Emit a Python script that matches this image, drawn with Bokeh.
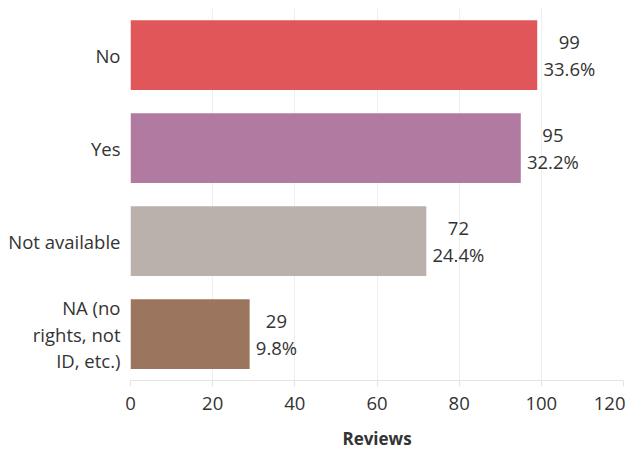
from bokeh.plotting import figure
from bokeh.models import ColumnDataSource, FactorRange, FixedTicker
from bokeh.core.properties import value
from bokeh.embed import file_html
from bokeh.resources import INLINE

# ---- data ----
categories = ["No", "Yes", "Not available", "NA (no\nrights, not\nID, etc.)"]
reviews = [99, 95, 72, 29]
colors = ["#e15759", "#b07aa1", "#bab0ac", "#9c755f"]
x_ticks = [0, 20, 40, 60, 80, 100, 120]
axis_title = "Reviews"

total = sum(reviews)
pcts = [f"{v / total * 100:.1f}%" for v in reviews]
labels = [f"{v}\n{p}" for v, p in zip(reviews, pcts)]

FONT = "Open Sans"
TEXT = "#333333"
FS = 18.5


def est_width(s, size):
    w = 0.0
    for ch in s:
        if ch.isdigit():
            w += 0.572
        elif ch == ".":
            w += 0.266
        elif ch == "%":
            w += 0.84
        else:
            w += 0.55
    return w * size


offsets = [6 + est_width(max(str(v), p, key=len), FS) / 2 for v, p in zip(reviews, pcts)]

src = ColumnDataSource(dict(cat=categories, val=reviews, color=colors, label=labels, off=offsets))

p = figure(
    frame_width=493, frame_height=372,
    min_border_left=130, min_border_right=2, min_border_top=8, min_border_bottom=68,
    y_range=FactorRange(factors=categories[::-1], range_padding=0),
    x_range=(x_ticks[0], x_ticks[-1]),
    output_backend="svg", toolbar_location=None,
)

p.hbar(y="cat", left=0, right="val", height=0.75, fill_color="color", line_color=None, source=src)

p.text(x="val", y="cat", text="label", x_offset="off", text_align="center", text_baseline="middle",
       text_font=value(FONT), text_font_size=f"{FS}px", text_color=TEXT, text_line_height=1.1,
       source=src)

p.outline_line_color = None
p.xgrid.grid_line_color = "#efefef"
p.ygrid.grid_line_color = None

xa = p.xaxis[0]
xa.ticker = FixedTicker(ticks=x_ticks)
xa.axis_line_color = "#e4e4e4"
xa.major_tick_line_color = "#e4e4e4"
xa.major_tick_in = 0
xa.major_tick_out = 6
xa.minor_tick_line_color = None
xa.major_label_standoff = 10
xa.major_label_text_font = FONT
xa.major_label_text_font_size = f"{FS}px"
xa.major_label_text_color = TEXT
xa.axis_label = axis_title
xa.axis_label_text_font = FONT
xa.axis_label_text_font_style = "bold"
xa.axis_label_text_font_size = "17px"
xa.axis_label_text_color = TEXT
xa.axis_label_standoff = 14

ya = p.yaxis[0]
ya.axis_line_color = None
ya.major_tick_line_color = None
ya.minor_tick_line_color = None
ya.major_label_standoff = 4
ya.major_label_text_font = FONT
ya.major_label_text_font_size = f"{FS}px"
ya.major_label_text_color = TEXT
ya.major_label_text_line_height = 1.05

open("out.html", "w").write(file_html(p, INLINE))
